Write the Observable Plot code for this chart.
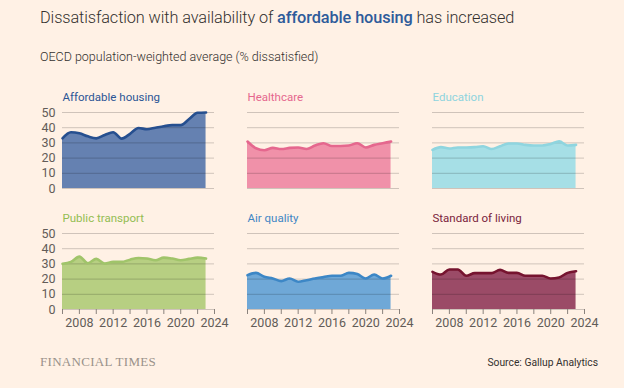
<!DOCTYPE html>
<html>
<head>
<meta charset="utf-8">
<script src="https://cdn.jsdelivr.net/npm/d3@7"></script>
<script src="https://cdn.jsdelivr.net/npm/@observablehq/plot@0.6"></script>
<style>
  html, body { margin: 0; padding: 0; background: #FFF1E5; }
  body { width: 624px; height: 388px; overflow: hidden; font-family: Roboto, "Open Sans", sans-serif; position: relative; }
  #title { position: absolute; left: 40px; top: 8px; font-size: 16.3px; color: #33302E; font-weight: 300; white-space: nowrap; letter-spacing: -0.1px; }
  #title b { color: #2E5B9A; font-weight: 500; }
  #subtitle { position: absolute; left: 40px; top: 49px; font-size: 12.5px; color: #33302E; font-weight: 300; white-space: nowrap; }
  #chart { position: absolute; left: 0; top: 70px; }
  #ft { position: absolute; left: 40px; top: 354px; font-family: "Liberation Serif", "DejaVu Serif", serif; font-size: 13px; color: #9a918a; letter-spacing: 0.3px; }
  #source { position: absolute; right: 26px; top: 356px; font-size: 10.3px; color: #33302E; }
</style>
</head>
<body>
<div id="title">Dissatisfaction with availability of <b>affordable housing</b> has increased</div>
<div id="subtitle">OECD population-weighted average (% dissatisfied)</div>
<div id="chart"></div>
<div id="ft">FINANCIAL TIMES</div>
<div id="source">Source: Gallup Analytics</div>
<script>
const years = [2006,2007,2008,2009,2010,2011,2012,2013,2014,2015,2016,2017,2018,2019,2020,2021,2022,2023];
const categories = ["Affordable housing","Healthcare","Education","Public transport","Air quality","Standard of living"];
const affordableHousing = [33,37,36.3,34.3,33,35.2,37,32.8,36,39.8,39,40,41,41.7,41.7,45.7,49.8,50];
const healthcare        = [30.9,26.5,25.2,26.7,26,26.7,27,26,28.3,29.8,28,28,28.3,29.8,27,28.7,29.8,30.9];
const education         = [25.4,27.2,26.3,27,27,27.2,27.8,26,27.8,29.6,29.6,28.7,28.3,28.3,29.3,31,28.3,28.7];
const publicTransport   = [30,31.3,34.8,30.4,33.3,30.2,31.3,31.3,32.8,33.9,33.5,32.4,34.1,33.5,32.4,33.3,34.1,33.5];
const airQuality        = [22.6,24.1,21.5,20.4,18.7,20.4,18.3,19.3,20.4,21.3,22.2,22.2,24.1,23.3,20.4,23,20.4,22.2];
const standardOfLiving  = [24.8,23,26.3,26.3,22.2,23.9,23.9,23.9,26.1,24.1,24.1,22.2,22.2,22.2,20.4,21.1,24.1,25.2];
const seriesValues = [affordableHousing, healthcare, education, publicTransport, airQuality, standardOfLiving];
const fillColors  = ["#6581b1","#f091a9","#a6dfe6","#b7cf82","#6fa8d7","#9b4b67"];
const lineColors  = ["#264f8f","#e5678e","#8fd5df","#a0c46a","#3d87c6","#76142f"];
const titleColors = ["#2c5595","#e5678e","#8ed4de","#93bd52","#3f86c4","#7a1c3c"];
const yTicks = [0,10,20,30,40,50];
const xTicks = [2006,2008,2010,2012,2014,2016,2018,2020,2022,2024];

const marks = [];
categories.forEach((cat, i) => {
  const col = i % 3, row = Math.floor(i / 3);
  const data = years.map((yr, j) => ({year: yr, value: seriesValues[i][j], col, row}));
  marks.push(Plot.areaY(data, {x: "year", y: "value", fx: "col", fy: "row", fill: fillColors[i], curve: "monotone-x"}));
});
marks.push(Plot.ruleY(yTicks, {stroke: "#000", strokeOpacity: 0.19, strokeWidth: 1}));
categories.forEach((cat, i) => {
  const col = i % 3, row = Math.floor(i / 3);
  const data = years.map((yr, j) => ({year: yr, value: seriesValues[i][j], col, row}));
  marks.push(Plot.lineY(data, {x: "year", y: "value", fx: "col", fy: "row", stroke: lineColors[i], strokeWidth: 2.6, curve: "monotone-x"}));
  marks.push(Plot.text([{col, row, t: cat}], {fx: "col", fy: "row", text: "t", frameAnchor: "top-left", lineAnchor: "middle", textAnchor: "start", dy: -15, fill: titleColors[i], fontSize: 11.5}));
});
marks.push(Plot.axisY(yTicks, {tickSize: 0, tickPadding: 7, fontSize: 12.5, color: "#625c58", label: null, anchor: "left"}));
marks.push(Plot.axisX(xTicks, {tickSize: 5, tickPadding: 4, fontSize: 12.5, color: "#625c58", stroke: "#8a827c", label: null, anchor: "bottom", tickFormat: d => d % 4 === 0 ? String(d) : ""}));

const chart = Plot.plot({
  width: 624,
  height: 270,
  marginLeft: 62,
  marginRight: 39,
  marginTop: 42,
  marginBottom: 31,
  style: {background: "transparent", fontFamily: "Roboto, sans-serif"},
  fx: {domain: [0,1,2], paddingInner: 0.178, paddingOuter: 0, axis: null},
  fy: {domain: [0,1], paddingInner: 0.372, paddingOuter: 0, axis: null},
  x: {domain: [2006, 2024]},
  y: {domain: [0, 50]},
  marks
});
document.getElementById("chart").appendChild(chart);
</script>
</body>
</html>
